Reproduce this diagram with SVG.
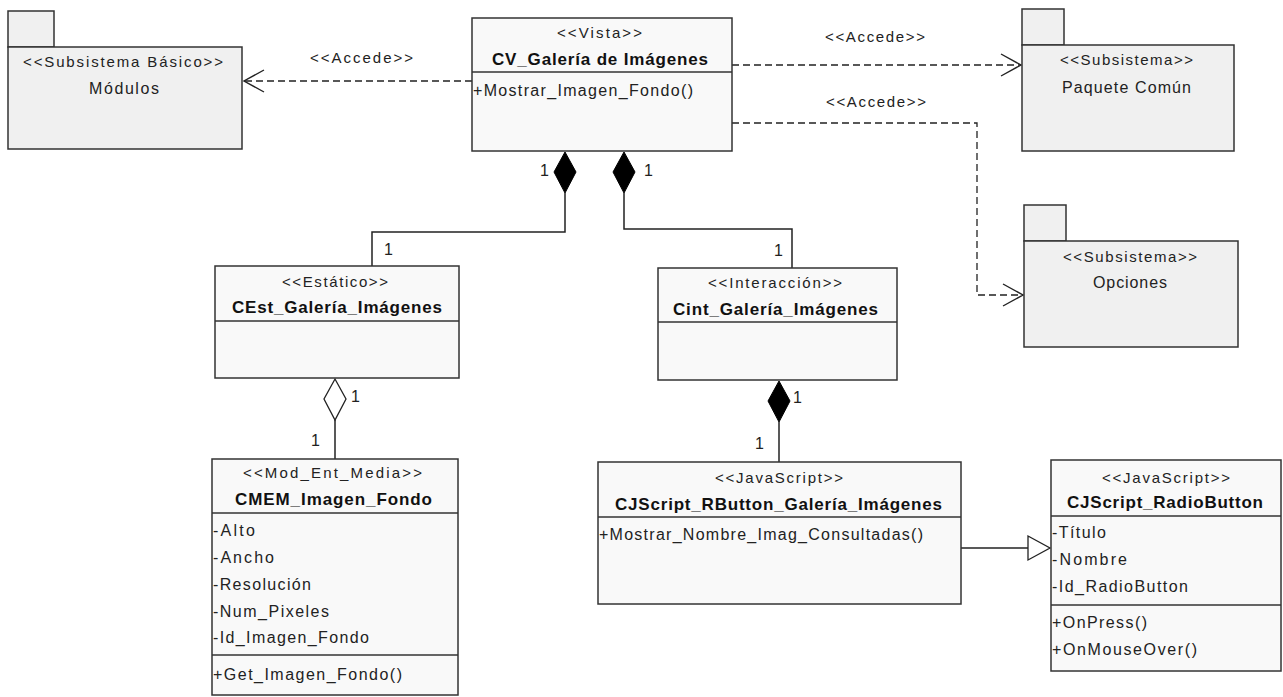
<svg xmlns="http://www.w3.org/2000/svg" width="1283" height="697" viewBox="0 0 1283 697">
<style>
.box{fill:#f9f9f9;stroke:#333;stroke-width:1.5}
.pkg{fill:#f0f0f0;stroke:#333;stroke-width:1.5}
.div{stroke:#333;stroke-width:1.5}
.st{font-family:"Liberation Sans",Arial,sans-serif;font-size:15px;fill:#222}
.nm{font-family:"Liberation Sans",Arial,sans-serif;font-size:17px;font-weight:bold;fill:#111}
.at{font-family:"Liberation Sans",Arial,sans-serif;font-size:16px;fill:#222}
.dash{stroke:#222;stroke-width:1.3;stroke-dasharray:7 4;fill:none}
.ln{stroke:#222;stroke-width:1.5;fill:none}
.head{stroke:#222;stroke-width:1.4;fill:none}
.comp{fill:#000;stroke:#000;stroke-width:1}
.agg{fill:#fff;stroke:#222;stroke-width:1.3}
</style>
<rect width="1283" height="697" fill="#fff"/>

<g id="connectors">
  <line class="dash" x1="472" y1="81" x2="245" y2="81"/>
  <polyline class="head" points="264,70 244,81 264,92"/>
  <line class="dash" x1="732" y1="65" x2="1020" y2="65"/>
  <polyline class="head" points="1001,54 1021,65 1001,76"/>
  <polyline class="dash" points="732,123 977,123 977,295 1021,295"/>
  <polyline class="head" points="1003,284 1023,295 1003,306"/>
  <polyline class="ln" points="565,193 565,232 372,232 372,266"/>
  <polygon class="comp" points="565,152 576,172 565,193 554,172"/>
  <polyline class="ln" points="624,193 624,229 792,229 792,268"/>
  <polygon class="comp" points="624,152 635,172 624,193 613,172"/>
  <line class="ln" x1="335" y1="420" x2="335" y2="459"/>
  <polygon class="agg" points="335,379 346,399 335,420 324,399"/>
  <line class="ln" x1="779" y1="422" x2="779" y2="462"/>
  <polygon class="comp" points="779,381 790,401 779,422 768,401"/>
  <line class="ln" x1="961" y1="548" x2="1028" y2="548"/>
  <polygon class="agg" points="1028,536 1050,548 1028,560"/>
  <text class="st" x="310" y="63" textLength="103" lengthAdjust="spacing">&lt;&lt;Accede&gt;&gt;</text>
  <text class="st" x="825" y="42" textLength="100" lengthAdjust="spacing">&lt;&lt;Accede&gt;&gt;</text>
  <text class="st" x="826" y="107" textLength="100" lengthAdjust="spacing">&lt;&lt;Accede&gt;&gt;</text>
  <text class="at" x="540" y="176">1</text>
  <text class="at" x="644" y="176">1</text>
  <text class="at" x="384" y="255">1</text>
  <text class="at" x="774" y="256">1</text>
  <text class="at" x="351" y="402">1</text>
  <text class="at" x="311" y="446">1</text>
  <text class="at" x="793" y="403">1</text>
  <text class="at" x="755" y="449">1</text>
</g>

<g id="modulos">
  <rect class="pkg" x="8" y="11" width="46" height="36"/>
  <rect class="pkg" x="8" y="47" width="234" height="102"/>
  <text class="st" x="23" y="67" textLength="200" lengthAdjust="spacing">&lt;&lt;Subsistema Básico&gt;&gt;</text>
  <text class="at" x="89" y="94" textLength="70" lengthAdjust="spacing">Módulos</text>
</g>

<g id="cv-galeria">
  <rect class="box" x="472" y="18" width="260" height="133"/>
  <line class="div" x1="472" y1="72" x2="732" y2="72"/>
  <text class="st" x="557" y="38" textLength="85" lengthAdjust="spacing">&lt;&lt;Vista&gt;&gt;</text>
  <text class="nm" x="492" y="65" textLength="216" lengthAdjust="spacing">CV_Galería de Imágenes</text>
  <text class="at" x="473" y="96" textLength="220" lengthAdjust="spacing">+Mostrar_Imagen_Fondo()</text>
</g>

<g id="paquete-comun">
  <rect class="pkg" x="1022" y="9" width="42" height="36"/>
  <rect class="pkg" x="1022" y="45" width="212" height="106"/>
  <text class="st" x="1060" y="65" textLength="133" lengthAdjust="spacing">&lt;&lt;Subsistema&gt;&gt;</text>
  <text class="at" x="1062" y="93" textLength="129" lengthAdjust="spacing">Paquete Común</text>
</g>

<g id="opciones">
  <rect class="pkg" x="1024" y="205" width="42" height="36"/>
  <rect class="pkg" x="1024" y="241" width="214" height="106"/>
  <text class="st" x="1063" y="262" textLength="134" lengthAdjust="spacing">&lt;&lt;Subsistema&gt;&gt;</text>
  <text class="at" x="1093" y="288" textLength="74" lengthAdjust="spacing">Opciones</text>
</g>

<g id="cest">
  <rect class="box" x="215" y="266" width="244" height="112"/>
  <line class="div" x1="215" y1="321" x2="459" y2="321"/>
  <text class="st" x="282" y="287" textLength="106" lengthAdjust="spacing">&lt;&lt;Estático&gt;&gt;</text>
  <text class="nm" x="232" y="313" textLength="210" lengthAdjust="spacing">CEst_Galería_Imágenes</text>
</g>

<g id="cint">
  <rect class="box" x="658" y="268" width="239" height="112"/>
  <line class="div" x1="658" y1="322" x2="897" y2="322"/>
  <text class="st" x="708" y="288" textLength="134" lengthAdjust="spacing">&lt;&lt;Interacción&gt;&gt;</text>
  <text class="nm" x="673" y="315" textLength="205" lengthAdjust="spacing">Cint_Galería_Imágenes</text>
</g>

<g id="cmem">
  <rect class="box" x="212" y="459" width="246" height="236"/>
  <line class="div" x1="212" y1="513" x2="458" y2="513"/>
  <line class="div" x1="212" y1="655" x2="458" y2="655"/>
  <text class="st" x="243" y="478" textLength="179" lengthAdjust="spacing">&lt;&lt;Mod_Ent_Media&gt;&gt;</text>
  <text class="nm" x="235" y="505" textLength="197" lengthAdjust="spacing">CMEM_Imagen_Fondo</text>
  <text class="at" x="213" y="536" textLength="42" lengthAdjust="spacing">-Alto</text>
  <text class="at" x="213" y="563" textLength="61" lengthAdjust="spacing">-Ancho</text>
  <text class="at" x="213" y="590" textLength="98" lengthAdjust="spacing">-Resolución</text>
  <text class="at" x="213" y="617" textLength="116" lengthAdjust="spacing">-Num_Pixeles</text>
  <text class="at" x="213" y="643" textLength="156" lengthAdjust="spacing">-Id_Imagen_Fondo</text>
  <text class="at" x="213" y="680" textLength="189" lengthAdjust="spacing">+Get_Imagen_Fondo()</text>
</g>

<g id="cjscript-rbutton">
  <rect class="box" x="598" y="462" width="363" height="142"/>
  <line class="div" x1="598" y1="517" x2="961" y2="517"/>
  <text class="st" x="715" y="483" textLength="128" lengthAdjust="spacing">&lt;&lt;JavaScript&gt;&gt;</text>
  <text class="nm" x="615" y="510" textLength="327" lengthAdjust="spacing">CJScript_RButton_Galería_Imágenes</text>
  <text class="at" x="599" y="540" textLength="324" lengthAdjust="spacing">+Mostrar_Nombre_Imag_Consultadas()</text>
</g>

<g id="cjscript-radiobutton">
  <rect class="box" x="1051" y="460" width="230" height="211"/>
  <line class="div" x1="1051" y1="516" x2="1281" y2="516"/>
  <line class="div" x1="1051" y1="605" x2="1281" y2="605"/>
  <text class="st" x="1102" y="483" textLength="128" lengthAdjust="spacing">&lt;&lt;JavaScript&gt;&gt;</text>
  <text class="nm" x="1067" y="508" textLength="196" lengthAdjust="spacing">CJScript_RadioButton</text>
  <text class="at" x="1052" y="538" textLength="54" lengthAdjust="spacing">-Título</text>
  <text class="at" x="1052" y="565" textLength="75" lengthAdjust="spacing">-Nombre</text>
  <text class="at" x="1052" y="592" textLength="136" lengthAdjust="spacing">-Id_RadioButton</text>
  <text class="at" x="1052" y="628" textLength="95" lengthAdjust="spacing">+OnPress()</text>
  <text class="at" x="1052" y="655" textLength="145" lengthAdjust="spacing">+OnMouseOver()</text>
</g>
</svg>
